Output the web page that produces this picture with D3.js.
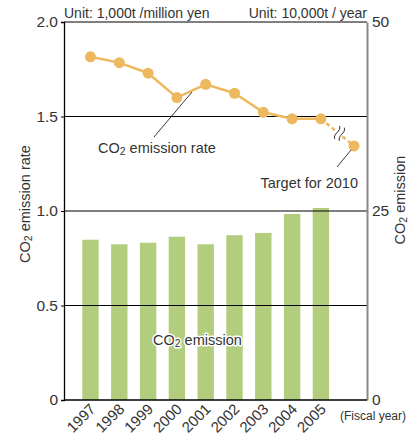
<!DOCTYPE html>
<html><head><meta charset="utf-8">
<script src="https://cdn.jsdelivr.net/npm/d3@7"></script>
<style>body{margin:0;background:#fff}svg{display:block}</style>
</head><body>
<svg id="c" width="417" height="437"></svg>
<script>
const years = ["1997","1998","1999","2000","2001","2002","2003","2004","2005"];
const emission = [21.2, 20.6, 20.8, 21.6, 20.6, 21.8, 22.1, 24.6, 25.4];
const rate = [1.816, 1.785, 1.729, 1.600, 1.670, 1.623, 1.522, 1.488, 1.488];
const targetLabel = "2010";
const targetRate = 1.344;
const targetSlot = 9.15;
const leftTicks = [0, 0.5, 1.0, 1.5, 2.0];
const leftTickLabels = ["0", "0.5", "1.0", "1.5", "2.0"];
const rightTicks = [0, 25, 50];

const svg = d3.select("#c");
const font = "'Liberation Sans', Arial, sans-serif";
const txt = "#333";
const L = 64, R = 367, T = 22, B = 400;

const x = d3.scaleLinear().domain([-0.92, 9.6]).range([L, R]);
const yL = d3.scaleLinear().domain([0, 2]).range([B, T]);
const yR = d3.scaleLinear().domain([0, 50]).range([B, T]);
const step = x(1) - x(0);
const bw = step * 0.57;

// bars
svg.append("g").selectAll("rect").data(emission).join("rect")
  .attr("x", (d, i) => x(i) - bw / 2)
  .attr("y", d => yR(d))
  .attr("width", bw)
  .attr("height", d => B - yR(d))
  .attr("fill", "#b3cd7f");

// gridlines
svg.append("g").selectAll("line").data(leftTicks.filter(d => d > 0)).join("line")
  .attr("x1", L).attr("x2", R)
  .attr("y1", d => yL(d)).attr("y2", d => yL(d))
  .attr("stroke", "#000").attr("stroke-width", 1);

// left axis
const gL = svg.append("g").attr("transform", `translate(${L},0)`)
  .call(d3.axisLeft(yL).tickValues(leftTicks).tickSize(3).tickPadding(3)
    .tickFormat((d, i) => leftTickLabels[i]));
gL.select(".domain").attr("stroke", "#000").attr("stroke-width", 1.3);
gL.selectAll(".tick line").attr("stroke", "#000");
gL.selectAll("text").attr("font-family", font).attr("font-size", 15.5).attr("fill", txt);

// right axis
const gR = svg.append("g").attr("transform", `translate(${R},0)`)
  .call(d3.axisRight(yR).tickValues(rightTicks).tickSize(0).tickPadding(5));
gR.select(".domain").attr("stroke", "#8a8a8a").attr("stroke-width", 2);
gR.selectAll("text").attr("font-family", font).attr("font-size", 15.5).attr("fill", txt);

// bottom axis line
svg.append("line").attr("x1", L).attr("x2", R).attr("y1", B).attr("y2", B)
  .attr("stroke", "#000").attr("stroke-width", 1.3);

// x labels
svg.append("g").selectAll("text").data(years).join("text")
  .attr("transform", (d, i) => `translate(${x(i) + 6},${B + 10}) rotate(-45)`)
  .attr("text-anchor", "end")
  .attr("font-family", font).attr("font-size", 15).attr("fill", txt)
  .text(d => d);

svg.append("text").attr("x", 373).attr("y", B + 20)
  .attr("text-anchor", "middle").attr("font-family", font).attr("font-size", 12)
  .attr("fill", txt).text("(Fiscal year)");

// line
const col = "#edb95f";
const line = d3.line().x((d, i) => x(i)).y(d => yL(d));
svg.append("path").datum(rate).attr("d", line)
  .attr("fill", "none").attr("stroke", col).attr("stroke-width", 2.5);

const lastI = rate.length - 1;
svg.append("line")
  .attr("x1", x(lastI)).attr("y1", yL(rate[lastI]))
  .attr("x2", x(targetSlot)).attr("y2", yL(targetRate))
  .attr("stroke", col).attr("stroke-width", 2.5).attr("stroke-dasharray", "4,3");

// break symbol
const bx = (x(lastI) + x(targetSlot)) / 2 + 2, by = (yL(rate[lastI]) + yL(targetRate)) / 2 + 1;
const brk = svg.append("g").attr("transform", `translate(${bx},${by}) rotate(-70)`);
brk.append("rect").attr("x", -7).attr("y", -2.5).attr("width", 14).attr("height", 5).attr("fill", "#fff");
[-2.5, 2.5].forEach(o => {
  brk.append("path").attr("d", `M-7,${o} C-3,${o - 4} 3,${o + 4} 7,${o}`)
    .attr("fill", "none").attr("stroke", "#222").attr("stroke-width", 0.9);
});

svg.append("g").selectAll("circle").data(rate).join("circle")
  .attr("cx", (d, i) => x(i)).attr("cy", d => yL(d)).attr("r", 5.5).attr("fill", col);
svg.append("circle").attr("cx", x(targetSlot)).attr("cy", yL(targetRate)).attr("r", 5.5).attr("fill", col);

// annotations
svg.append("line").attr("x1", 192).attr("y1", 92).attr("x2", 154).attr("y2", 137)
  .attr("stroke", "#222").attr("stroke-width", 0.9);
svg.append("line").attr("x1", x(targetSlot) - 3).attr("y1", yL(targetRate) + 4)
  .attr("x2", 337).attr("y2", 167).attr("stroke", "#222").attr("stroke-width", 0.9);

function co2(sel, rest) {
  sel.append("tspan").text("CO");
  sel.append("tspan").attr("font-size", "0.72em").attr("dy", 2).text("2");
  sel.append("tspan").attr("dy", -2).text(rest);
}

const t1 = svg.append("text").attr("x", 98).attr("y", 153)
  .attr("font-family", font).attr("font-size", 14.5).attr("fill", txt);
co2(t1, " emission rate");

svg.append("text").attr("x", 358).attr("y", 188).attr("text-anchor", "end")
  .attr("font-family", font).attr("font-size", 14.5).attr("fill", txt).text("Target for " + targetLabel);

const t3 = svg.append("text").attr("x", 153).attr("y", 345)
  .attr("font-family", font).attr("font-size", 14.5).attr("fill", txt)
  .attr("stroke", "#fff").attr("stroke-width", 3).attr("paint-order", "stroke").attr("stroke-linejoin", "round");
co2(t3, " emission");

// units
svg.append("text").attr("x", L).attr("y", 18)
  .attr("font-family", font).attr("font-size", 14).attr("fill", txt).text("Unit: 1,000t /million yen");
svg.append("text").attr("x", R).attr("y", 18).attr("text-anchor", "end")
  .attr("font-family", font).attr("font-size", 14).attr("fill", txt).text("Unit: 10,000t / year");

// axis titles
const at1 = svg.append("text").attr("transform", `translate(30,204) rotate(-90)`)
  .attr("text-anchor", "middle").attr("font-family", font).attr("font-size", 14.5).attr("fill", txt);
co2(at1, " emission rate");
const at2 = svg.append("text").attr("transform", `translate(405,200) rotate(-90)`)
  .attr("text-anchor", "middle").attr("font-family", font).attr("font-size", 14.5).attr("fill", txt);
co2(at2, " emission");
</script>
</body></html>
